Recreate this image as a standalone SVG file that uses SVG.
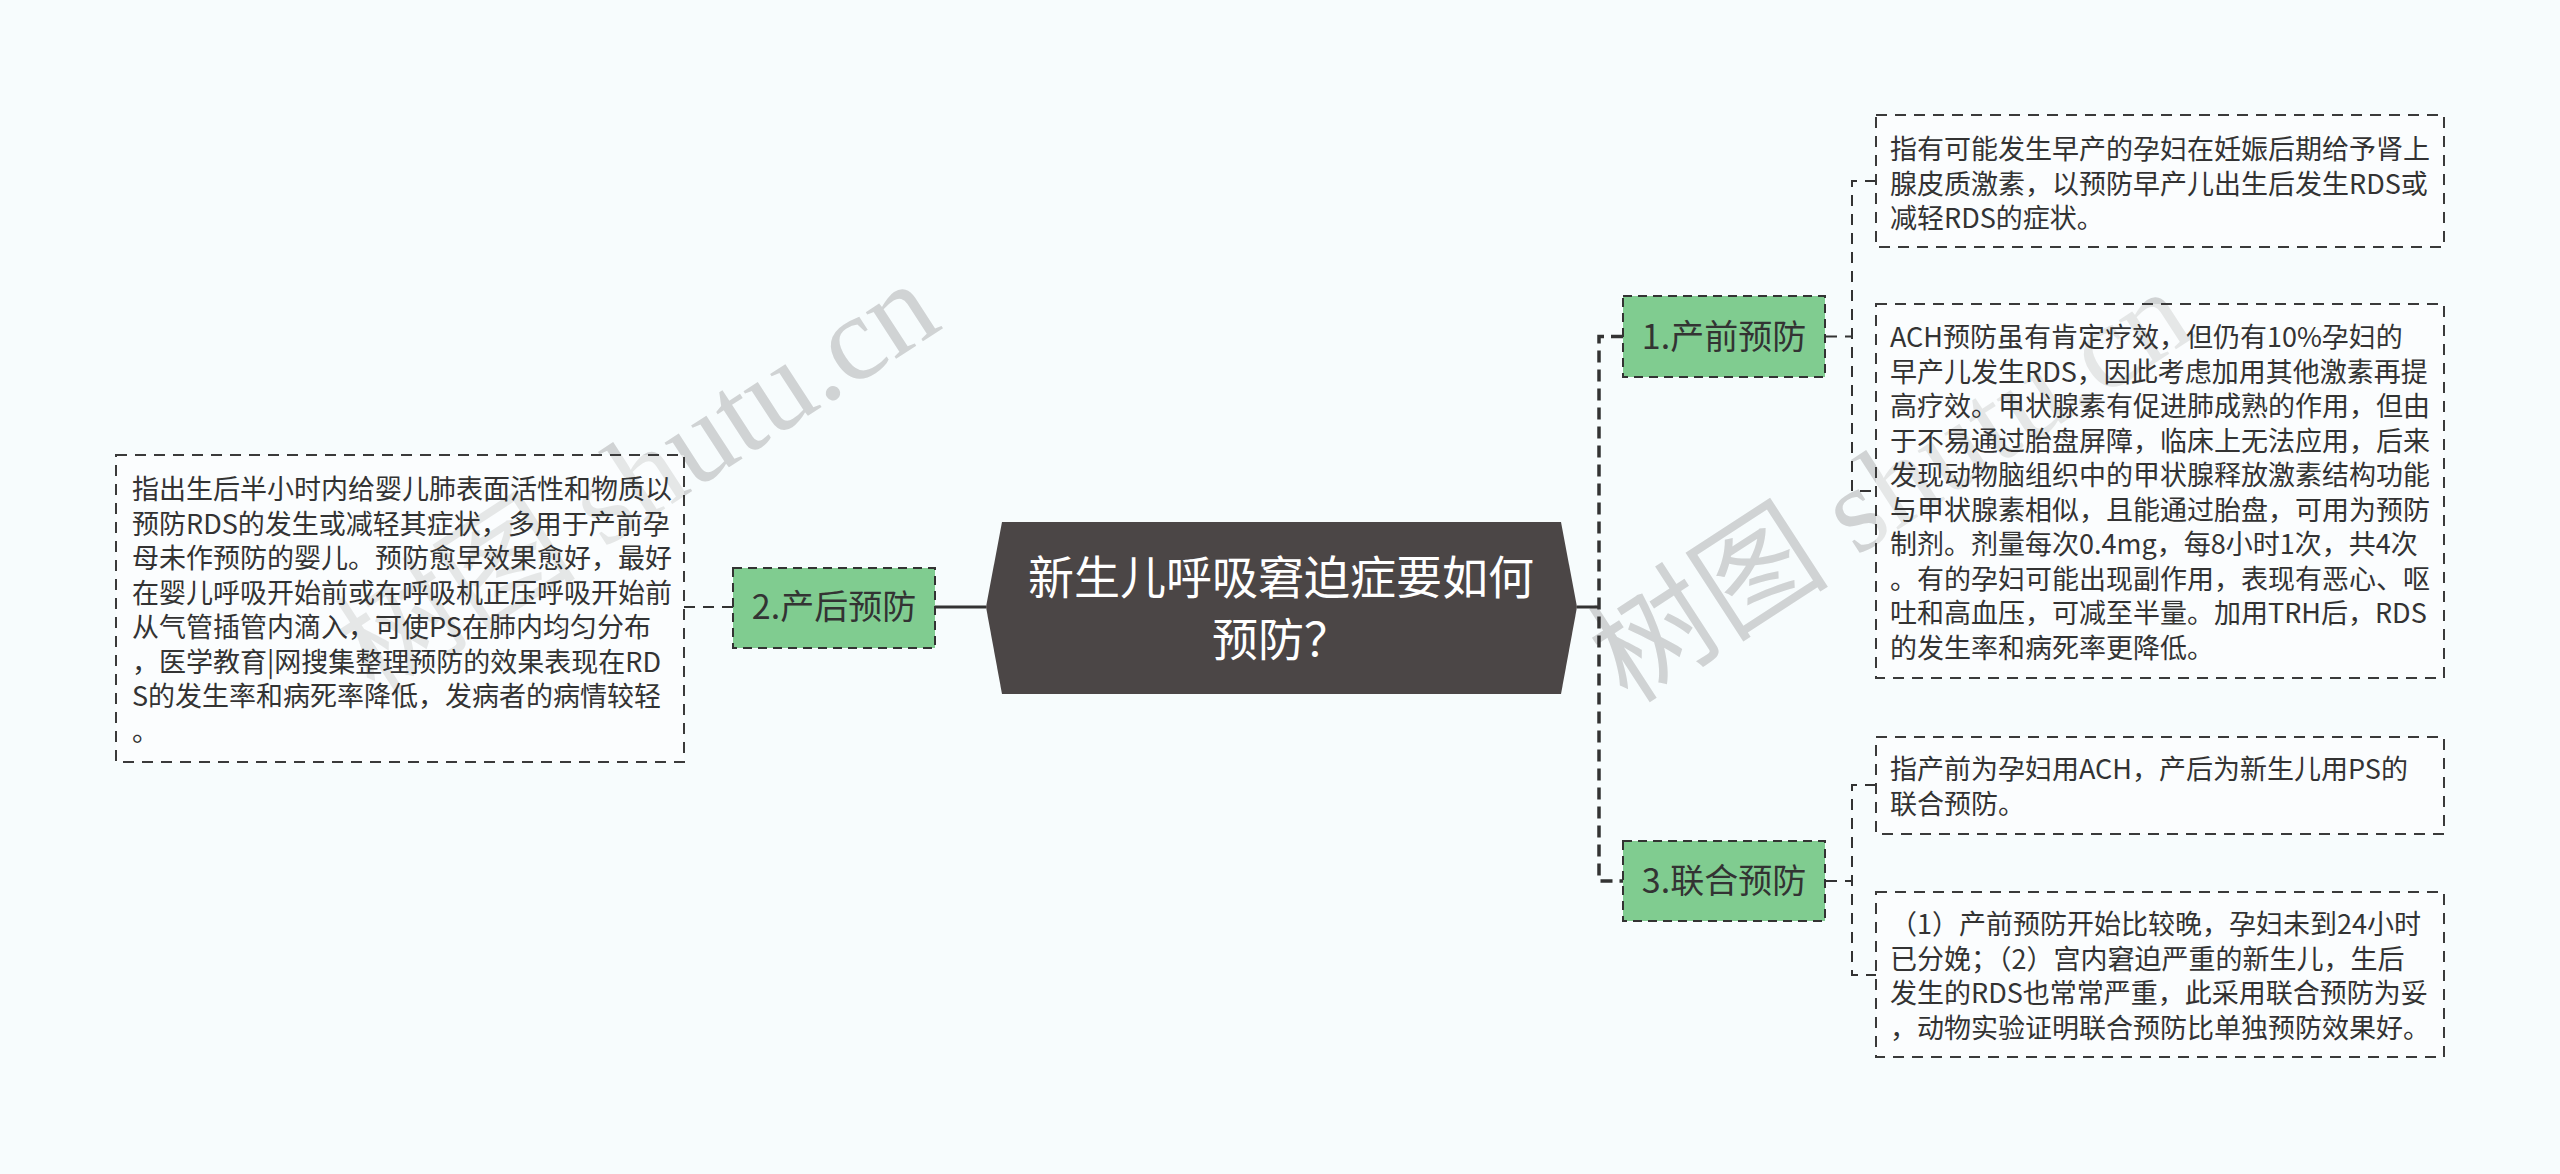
<svg xmlns="http://www.w3.org/2000/svg" width="2560" height="1174" viewBox="0 0 2560 1174">
<style>
.bg{fill:#f7fcfd}
.wm{font-family:"Liberation Serif","Noto Sans CJK SC",serif;font-size:121px;fill:#d0d3d4}
.leaf{fill:#ffffff;fill-opacity:0.45;stroke:#3a3a3a;stroke-width:2;stroke-dasharray:11 8}
.lt{font-family:"Noto Sans CJK SC","Microsoft YaHei",sans-serif;font-size:27px;fill:#333333}
.mid{fill:#80cc90;stroke:#333333;stroke-width:2;stroke-dasharray:9 6}
.mt{font-family:"Noto Sans CJK SC",sans-serif;font-size:34px;fill:#333333;text-anchor:middle}
.ct{font-family:"Noto Sans CJK SC",sans-serif;font-size:46px;fill:#ffffff;text-anchor:middle}
.solid{fill:none;stroke:#333333;stroke-width:3}
.trunk{fill:none;stroke:#333333;stroke-width:3.5;stroke-dasharray:12 7}
.dash{fill:none;stroke:#333333;stroke-width:2;stroke-dasharray:11 8}
</style>
<rect class="bg" x="0" y="0" width="2560" height="1174"/>
<g id="watermarks">
<text class="wm" x="375" y="697" transform="rotate(-33 375 697)">树图 shutu.cn</text>
<text class="wm" x="1628" y="705" transform="rotate(-33 1628 705)">树图 shutu.cn</text>
</g>
<g id="connectors">
<line class="solid" x1="986" y1="607" x2="935" y2="607"/>
<line class="dash" x1="733" y1="607" x2="684" y2="607"/>
<line class="solid" x1="1577" y1="607" x2="1599" y2="607"/>
<path class="trunk" d="M1623,336.5 H1599 V881 H1623"/>
<path class="dash" d="M1826,336.5 H1852"/>
<path class="dash" d="M1876,181 H1852 V491 H1876"/>
<path class="dash" d="M1826,881 H1852"/>
<path class="dash" d="M1876,785 H1852 V975 H1876"/>
</g>
<g id="center">
<polygon points="986,607 1002,522 1561,522 1577,607 1561,694 1002,694" fill="#4b4646"/>
<text class="ct" x="1281" y="594">新生儿呼吸窘迫症要如何</text>
<text class="ct" x="1281" y="656">预防？</text>
</g>
<g id="node-after">
<rect class="mid" x="733" y="568" width="202" height="80"/>
<text class="mt" x="834" y="619">2.产后预防</text>
</g>
<g id="leaf-after">
<rect class="leaf" x="116" y="455" width="568" height="307"/>
<text class="lt" x="132" y="499">指出生后半小时内给婴儿肺表面活性和物质以</text>
<text class="lt" x="132" y="533.5">预防RDS的发生或减轻其症状，多用于产前孕</text>
<text class="lt" x="132" y="568">母未作预防的婴儿。预防愈早效果愈好，最好</text>
<text class="lt" x="132" y="602.5">在婴儿呼吸开始前或在呼吸机正压呼吸开始前</text>
<text class="lt" x="132" y="637">从气管插管内滴入，可使PS在肺内均匀分布</text>
<text class="lt" x="132" y="671.5">，医学教育|网搜集整理预防的效果表现在RD</text>
<text class="lt" x="132" y="706">S的发生率和病死率降低，发病者的病情较轻</text>
<text class="lt" x="132" y="740.5">。</text>
</g>
<g id="node-before">
<rect class="mid" x="1623" y="296" width="202" height="81"/>
<text class="mt" x="1724" y="349">1.产前预防</text>
</g>
<g id="leaf-before-1">
<rect class="leaf" x="1876" y="115" width="568" height="132"/>
<text class="lt" x="1890" y="159">指有可能发生早产的孕妇在妊娠后期给予肾上</text>
<text class="lt" x="1890" y="193.5">腺皮质激素，以预防早产儿出生后发生RDS或</text>
<text class="lt" x="1890" y="228">减轻RDS的症状。</text>
</g>
<g id="leaf-before-2">
<rect class="leaf" x="1876" y="304" width="568" height="374"/>
<text class="lt" x="1890" y="347">ACH预防虽有肯定疗效，但仍有10%孕妇的</text>
<text class="lt" x="1890" y="381.5">早产儿发生RDS，因此考虑加用其他激素再提</text>
<text class="lt" x="1890" y="416">高疗效。甲状腺素有促进肺成熟的作用，但由</text>
<text class="lt" x="1890" y="450.5">于不易通过胎盘屏障，临床上无法应用，后来</text>
<text class="lt" x="1890" y="485">发现动物脑组织中的甲状腺释放激素结构功能</text>
<text class="lt" x="1890" y="519.5">与甲状腺素相似，且能通过胎盘，可用为预防</text>
<text class="lt" x="1890" y="554">制剂。剂量每次0.4mg，每8小时1次，共4次</text>
<text class="lt" x="1890" y="588.5">。有的孕妇可能出现副作用，表现有恶心、呕</text>
<text class="lt" x="1890" y="623">吐和高血压，可减至半量。加用TRH后，RDS</text>
<text class="lt" x="1890" y="657.5">的发生率和病死率更降低。</text>
</g>
<g id="node-combined">
<rect class="mid" x="1623" y="841" width="202" height="80"/>
<text class="mt" x="1724" y="893">3.联合预防</text>
</g>
<g id="leaf-combined-1">
<rect class="leaf" x="1876" y="737" width="568" height="97"/>
<text class="lt" x="1890" y="779">指产前为孕妇用ACH，产后为新生儿用PS的</text>
<text class="lt" x="1890" y="813.5">联合预防。</text>
</g>
<g id="leaf-combined-2">
<rect class="leaf" x="1876" y="892" width="568" height="165"/>
<text class="lt" x="1890" y="934">（1）产前预防开始比较晚，孕妇未到24小时</text>
<text class="lt" x="1890" y="968.5">已分娩；（2）宫内窘迫严重的新生儿，生后</text>
<text class="lt" x="1890" y="1003">发生的RDS也常常严重，此采用联合预防为妥</text>
<text class="lt" x="1890" y="1037.5">，动物实验证明联合预防比单独预防效果好。</text>
</g>
</svg>
